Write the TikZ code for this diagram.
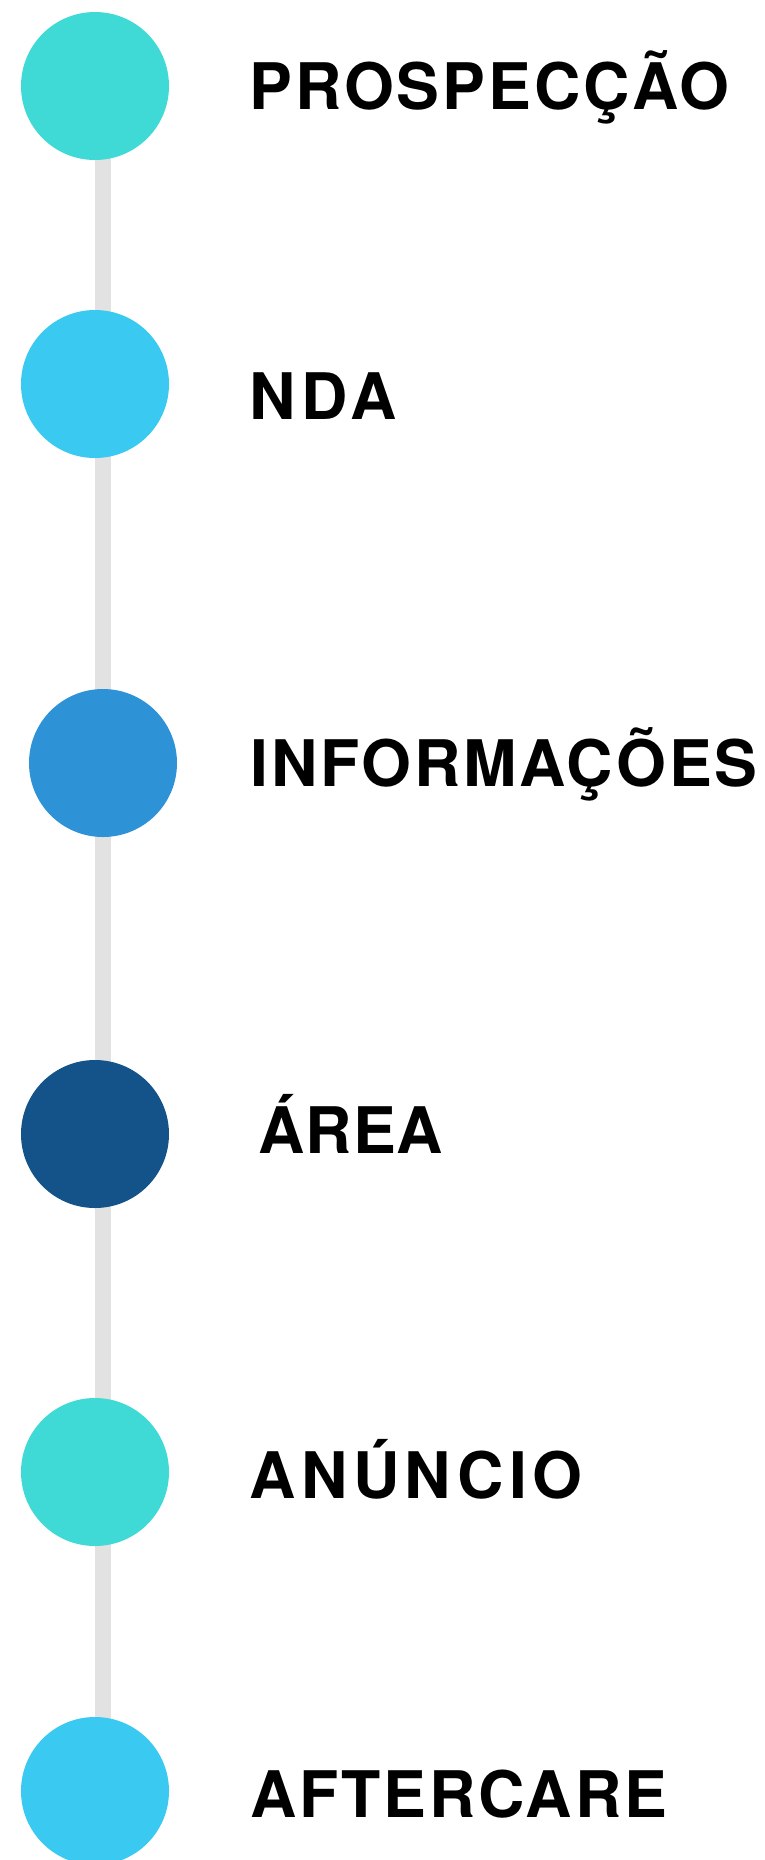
\documentclass[tikz,border=0pt]{standalone}
\usepackage{fontspec}
\usepackage{tikz}
\newfontfamily\stepfont{TeX Gyre Heros}[LetterSpace=4.5]
\newfontfamily\widestepfont{TeX Gyre Heros}[LetterSpace=8.5]
\newfontfamily\tightstepfont{TeX Gyre Heros}[LetterSpace=1.5]
\definecolor{tcol}{RGB}{64,218,214}
\definecolor{lcol}{RGB}{58,201,240}
\definecolor{mcol}{RGB}{46,147,214}
\definecolor{dcol}{RGB}{20,82,138}
\definecolor{gcol}{RGB}{226,226,226}
\tikzset{bead/.style={circle,fill,inner sep=0pt,minimum size=74pt}}
\tikzset{track/.style={gcol,line width=8pt}}
\tikzset{steplabel/.style={anchor=base west,inner sep=0pt,text=black,font=\stepfont\bfseries\fontsize{32.1}{38}\selectfont}}
\tikzset{widelabel/.style={steplabel,font=\widestepfont\bfseries\fontsize{32.1}{38}\selectfont}}
\tikzset{tightlabel/.style={steplabel,font=\tightstepfont\bfseries\fontsize{32.1}{38}\selectfont}}

\begin{document}
\begin{tikzpicture}[x=0.5pt,y=-0.5pt]
\useasboundingbox (0,0) rectangle (765,1860);
\coordinate (t1) at (103,86);
\coordinate (t6) at (103,1791);

\draw [track] (t1) -- (t6);

\node [tcol,bead] (s1) at (95,86) {};
\node [lcol,bead] (s2) at (95,384) {};
\node [mcol,bead] (s3) at (103,763) {};
\node [dcol,bead] (s4) at (95,1134) {};
\node [tcol,bead] (s5) at (95,1472) {};
\node [lcol,bead] (s6) at (95,1791) {};

\node [steplabel] (l1) at (249,109) {PROSPECÇÃO};
\node [widelabel] (l2) at (249,419) {NDA};
\node [steplabel] (l3) at (250,786) {INFORMAÇÕES};
\node [tightlabel] (l4) at (258,1153) {ÁREA};
\node [widelabel] (l5) at (249,1498) {ANÚNCIO};
\node [steplabel] (l6) at (250,1817) {AFTERCARE};
\end{tikzpicture}
\end{document}
